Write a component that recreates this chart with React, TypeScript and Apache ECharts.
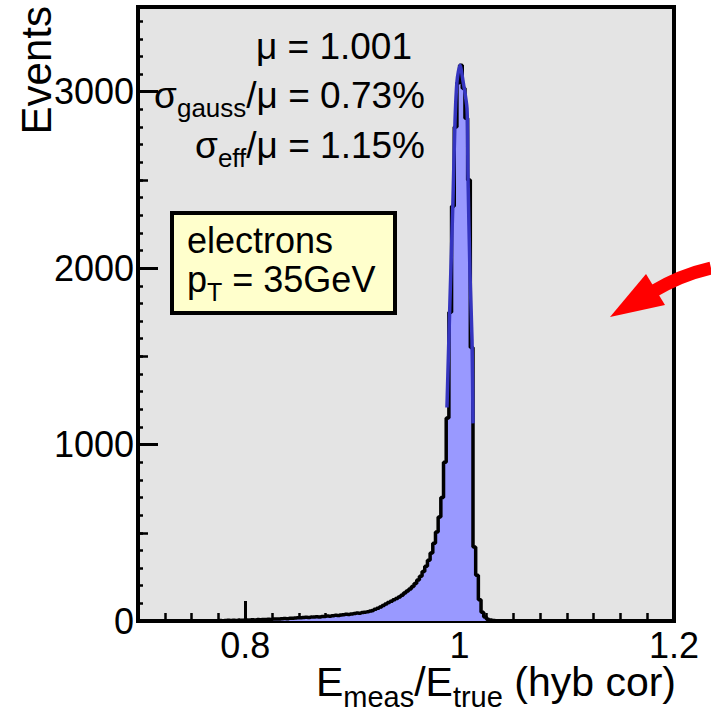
import React, { useEffect, useRef } from 'react';
import * as echarts from 'echarts';

// Histogram: 200 bins of width 0.0025 from 0.7 to 1.2
const binStart = 0.7;
const binWidth = 0.0025;
const counts = [
  0, 0, 1, 0, 0, 1, 0, 0, 1, 0,
  0, 1, 0, 1, 1, 0, 1, 0, 1, 1,
  1, 0, 1, 2, 1, 1, 2, 1, 2, 2,
  3, 2, 3, 4, 3, 4, 3, 5, 4, 5,
  6, 5, 7, 6, 8, 7, 9, 8, 10, 9,
  11, 12, 11, 13, 14, 13, 15, 16, 17, 18,
  19, 20, 21, 20, 22, 23, 24, 22, 25, 26,
  28, 27, 30, 32, 31, 34, 36, 38, 37, 40,
  42, 45, 44, 48, 50, 52, 56, 60, 66, 72,
  80, 88, 96, 105, 112, 120, 128, 136, 146, 158,
  170, 182, 196, 212, 232, 254, 280, 310, 345, 385,
  440, 505, 590, 700, 900, 1150, 1750, 2350, 2800, 3050,
  3150, 3020, 2850, 2500, 1550, 420, 260, 120, 50, 22,
  10, 5, 3, 2, 1, 1, 0, 1, 0, 0,
  0, 0, 0, 1, 0, 0, 0, 0, 0, 0,
  0, 0, 0, 0, 0, 0, 0, 0, 0, 0,
  0, 0, 0, 0, 1, 0, 0, 0, 0, 0,
  0, 0, 0, 0, 0, 0, 0, 0, 0, 0,
  0, 0, 0, 0, 0, 0, 0, 0, 0, 0,
  0, 0, 0, 0, 0, 0, 0, 0, 0, 0,
];

// Gaussian fit curve
const fitX = [0.9882, 0.991, 0.9938, 0.9957, 0.9976, 1.0004, 1.0032, 1.0069, 1.0078, 1.0097, 1.0116, 1.0125];
const fitY = [1210, 1815, 2380, 2830, 3060, 3150, 3060, 2905, 2530, 1967, 1590, 1120];

const xMin = 0.7;
const xMax = 1.2;
const yMin = 0;
const yMax = 3480;
const xMajorTicks = [0.8, 1.0, 1.2];
const xTickLabels = ['0.8', '1', '1.2'];
const yMajorTicks = [0, 1000, 2000, 3000];
const yTickLabels = ['0', '1000', '2000', '3000'];

const statLines = [
  '{m|μ = 1.001}',
  '{m|σ}{s|gauss}{m|/μ = 0.73%}',
  '{m|σ}{s|eff}{m|/μ = 1.15%}',
];
const legendLines = ['{m|electrons}', '{m|p}{s|T}{m| = 35GeV}'];
const xTitle = '{m|E}{s|meas}{m|/E}{s|true}{m| (hyb cor)}';
const yTitle = 'Events';

const FONT = '"Liberation Sans", Arial, Helvetica, sans-serif';

export default function App() {
  const ref = useRef<HTMLDivElement>(null);
  useEffect(() => {
    if (!ref.current) return;
    const chart = echarts.init(ref.current, null, { renderer: 'svg' });

    const histData = counts.map((c, i) => [binStart + binWidth * (i + 0.5), c]);
    const fitData = fitX.map((x, i) => [x, fitY[i]]);

    const xLabelMap: Record<string, string> = {};
    xMajorTicks.forEach((v, i) => (xLabelMap[v.toFixed(3)] = xTickLabels[i]));
    const yLabelMap: Record<string, string> = {};
    yMajorTicks.forEach((v, i) => (yLabelMap[String(v)] = yTickLabels[i]));

    const richMain = (size: number, lh: number) => ({
      m: { fontSize: size, fontFamily: FONT, color: '#000', lineHeight: lh },
      s: { fontSize: Math.round(size * 0.7), fontFamily: FONT, color: '#000', lineHeight: lh, padding: [Math.round(size * 0.7), 0, 0, 0] },
    });

    const statY = [46, 95, 145];
    const statRight = [412, 425, 425];

    const option: any = {
      animation: false,
      backgroundColor: '#ffffff',
      grid: {
        left: 138, right: 37, top: 7, bottom: 93,
        show: true, backgroundColor: '#e4e4e4', borderColor: '#000', borderWidth: 4,
      },
      xAxis: [
        {
          type: 'value', min: xMin, max: xMax, position: 'bottom',
          axisLine: { show: false },
          splitLine: { show: false },
          axisTick: { show: true, inside: true, length: 20, lineStyle: { color: '#000', width: 3 }, customValues: xMajorTicks },
          axisLabel: {
            show: true, customValues: xMajorTicks, margin: 6,
            color: '#000', fontSize: 36, fontFamily: FONT,
            formatter: (v: number) => xLabelMap[v.toFixed(3)] ?? '',
          },
        },
        {
          type: 'value', min: xMin, max: xMax, interval: 0.025, position: 'bottom',
          axisLine: { show: false }, splitLine: { show: false },
          axisTick: { show: true, inside: true, length: 8, lineStyle: { color: '#000', width: 2.5 } },
          axisLabel: { show: false },
        },
      ],
      yAxis: [
        {
          type: 'value', min: yMin, max: yMax, position: 'left',
          axisLine: { show: false }, splitLine: { show: false },
          axisTick: { show: true, inside: true, length: 20, lineStyle: { color: '#000', width: 3 }, customValues: yMajorTicks },
          axisLabel: {
            show: true, customValues: yMajorTicks, margin: 4,
            color: '#000', fontSize: 36, fontFamily: FONT,
            formatter: (v: number) => yLabelMap[String(v)] ?? '',
          },
        },
        {
          type: 'value', min: yMin, max: yMax, interval: 500, position: 'left',
          axisLine: { show: false }, splitLine: { show: false },
          axisTick: { show: true, inside: true, length: 10, lineStyle: { color: '#000', width: 2.5 } },
          axisLabel: { show: false },
        },
        {
          type: 'value', min: yMin, max: yMax, interval: 100, position: 'left',
          axisLine: { show: false }, splitLine: { show: false },
          axisTick: { show: true, inside: true, length: 5, lineStyle: { color: '#000', width: 2.5 } },
          axisLabel: { show: false },
        },
      ],
      series: [
        {
          type: 'line', xAxisIndex: 0, yAxisIndex: 0, data: histData,
          step: 'middle', symbol: 'none',
          lineStyle: { color: '#000', width: 3.5 },
          areaStyle: { color: '#9999ff', opacity: 1 },
          z: 2,
        },
        {
          type: 'line', xAxisIndex: 0, yAxisIndex: 0, data: fitData,
          smooth: 0.25, symbol: 'none',
          lineStyle: { color: '#3535c0', width: 3.5 },
          z: 3,
        },
      ],
      graphic: [
        {
          type: 'text', x: 36, y: 6, rotation: Math.PI / 2,
          style: { text: yTitle, fontSize: 42, fontFamily: FONT, fill: '#000', align: 'right', verticalAlign: 'middle' },
        },
        {
          type: 'text', x: 676, y: 682,
          style: { text: xTitle, rich: richMain(41, 48), align: 'right', verticalAlign: 'middle' },
        },
        ...statLines.map((t, i) => ({
          type: 'text', x: statRight[i], y: statY[i],
          style: { text: t, rich: richMain(37, 44), align: 'right', verticalAlign: 'middle' },
        })),
        {
          type: 'rect', shape: { x: 172, y: 213, width: 223, height: 100 },
          style: { fill: '#ffffcc', stroke: '#000', lineWidth: 4 },
        },
        ...legendLines.map((t, i) => ({
          type: 'text', x: 187, y: [240, 279][i],
          style: { text: t, rich: richMain(36, 42), align: 'left', verticalAlign: 'middle' },
        })),
        {
          type: 'bezierCurve',
          shape: { x1: 711, y1: 268, cpx1: 680, cpy1: 275, x2: 652, y2: 292 },
          style: { stroke: '#ff0000', lineWidth: 13, fill: null },
        },
        {
          type: 'polygon',
          shape: { points: [[610, 317], [646, 274], [665, 305]] },
          style: { fill: '#ff0000' },
        },
      ],
    };
    chart.setOption(option);
    return () => chart.dispose();
  }, []);
  return <div ref={ref} style={{ position: 'absolute', left: 0, top: 0, width: 711, height: 714 }} />;
}
